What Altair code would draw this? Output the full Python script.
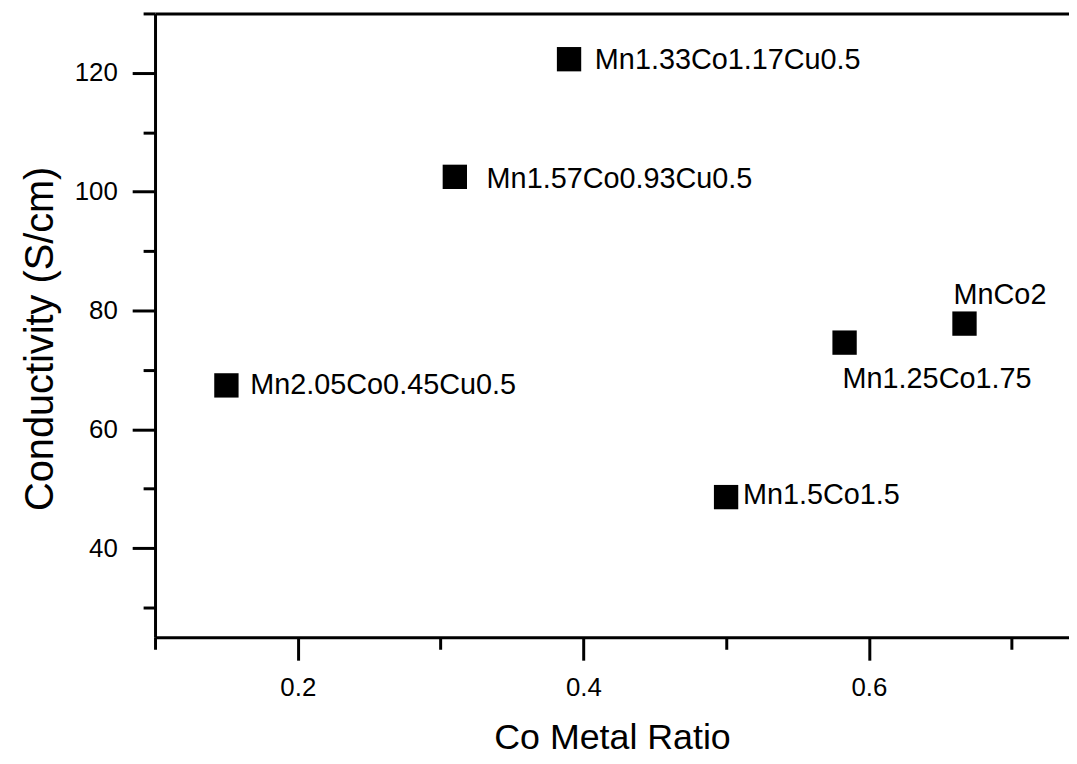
import altair as alt
import pandas as pd

# ---- data ----
labels = ["Mn2.05Co0.45Cu0.5", "Mn1.57Co0.93Cu0.5", "Mn1.33Co1.17Cu0.5",
          "Mn1.5Co1.5", "Mn1.25Co1.75", "MnCo2"]
co_ratio = [0.15, 0.31, 0.39, 0.50, 0.583, 0.667]
conductivity = [67.4, 102.5, 122.3, 48.6, 74.6, 77.8]
x_tick_values = [0.1, 0.2, 0.3, 0.4, 0.5, 0.6, 0.7]
y_tick_values = [30, 40, 50, 60, 70, 80, 90, 100, 110, 120, 130]

df = pd.DataFrame({"label": labels, "x": co_ratio, "y": conductivity})

FONT = "Liberation Sans"
xscale = alt.Scale(domain=[0.1, 0.7402], nice=False, zero=False)
yscale = alt.Scale(domain=[25, 130], nice=False, zero=False)

major_x = "round(datum.value * 10) % 2 == 0"
major_y = "round(datum.value) % 20 == 0"

x_axis = alt.Axis(
    values=x_tick_values, format=".1f",
    labelExpr=f"({major_x}) ? datum.label : ''",
    tickSize={"condition": {"test": major_x, "value": 23}, "value": 12},
    tickWidth=3, tickColor="black", domainWidth=3, domainColor="black",
    labelFont=FONT, labelFontSize=26, labelColor="black", labelPadding=15,
    labelOverlap=False, labelFlush=False, grid=False,
    title="Co Metal Ratio", titleFont=FONT, titleFontSize=36,
    titleFontWeight="normal", titleColor="black", titleY=112,
    titleBaseline="alphabetic",
)

y_axis = alt.Axis(
    values=y_tick_values,
    labelExpr=f"({major_y}) ? datum.label : ''",
    tickSize={"condition": {"test": major_y, "value": 23}, "value": 12},
    tickWidth=3, tickColor="black", domainWidth=3, domainColor="black",
    labelFont=FONT, labelFontSize=26, labelColor="black", labelPadding=15,
    labelOverlap=False, labelFlush=False, grid=False,
    title="Conductivity (S/cm)", titleFont=FONT, titleFontSize=40,
    titleFontWeight="normal", titleColor="black", titleAngle=270,
    titleX=-103, titleY=327, titleBaseline="alphabetic", titleAlign="center",
)

base = alt.Chart(df)

points = base.mark_square(size=600, color="black", opacity=1).encode(
    x=alt.X("x:Q", scale=xscale, axis=x_axis),
    y=alt.Y("y:Q", scale=yscale, axis=y_axis),
)

frame = base.mark_point(opacity=0).encode(
    x=alt.X("x:Q", scale=xscale,
            axis=alt.Axis(orient="top", labels=False, ticks=False, domain=True,
                          domainWidth=3, domainColor="black", grid=False, title=None)),
    y=alt.Y("y:Q", scale=yscale, axis=None),
)

label_style = {
    "Mn2.05Co0.45Cu0.5": dict(dx=24, dy=0, baseline="middle"),
    "Mn1.57Co0.93Cu0.5": dict(dx=32, dy=2, baseline="middle"),
    "Mn1.33Co1.17Cu0.5": dict(dx=26, dy=1, baseline="middle"),
    "Mn1.5Co1.5": dict(dx=17, dy=-2, baseline="middle"),
    "Mn1.25Co1.75": dict(dx=-2, dy=46, baseline="alphabetic"),
    "MnCo2": dict(dx=-11, dy=-20, baseline="alphabetic"),
}

texts = []
for name in labels:
    st = label_style[name]
    texts.append(
        base.transform_filter(alt.datum.label == name)
        .mark_text(align="left", baseline=st["baseline"], dx=st["dx"], dy=st["dy"],
                   font=FONT, fontSize=29, color="black")
        .encode(
            x=alt.X("x:Q", scale=xscale, axis=None),
            y=alt.Y("y:Q", scale=yscale, axis=None),
            text="label:N",
        )
    )

chart = (
    alt.layer(points, frame, *texts)
    .resolve_axis(x="independent", y="independent")
    .properties(
        width=920, height=628,
        autosize=alt.AutoSizeParams(type="none"),
        padding={"left": 148, "top": 3, "right": 0, "bottom": 121},
        background="white",
    )
    .configure_axis(labelFont=FONT, labelFontSize=26, labelColor="black")
    .configure_view(stroke=None)
)

chart.save("out.html", embed_options={"renderer": "svg", "actions": False})
